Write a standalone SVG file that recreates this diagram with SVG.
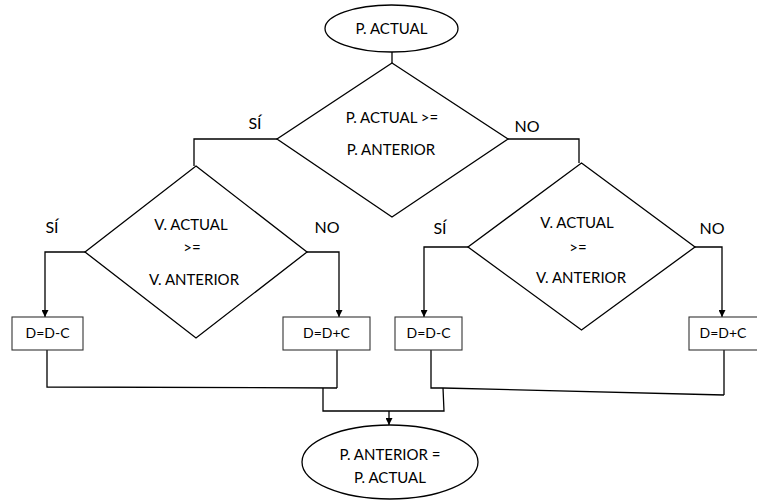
<svg xmlns="http://www.w3.org/2000/svg" width="757" height="501" viewBox="0 0 757 501">
<defs>
<style>
.shape{fill:#fff;stroke:#000;stroke-width:1.3}
.box{fill:#fff;stroke:#333;stroke-width:1.1}
.ln{fill:none;stroke:#000;stroke-width:1.3}
text{font-family:Lato,"Liberation Sans",sans-serif;font-size:15px;fill:#000;text-anchor:middle}
.lbl{font-size:16px}
.bx{font-size:14px}
</style>
<marker id="ah" viewBox="0 0 10 10" refX="10" refY="5" markerWidth="7" markerHeight="7" markerUnits="userSpaceOnUse" orient="auto">
<path d="M0,0 L10,5 L0,10 z" fill="#000"/>
</marker>
</defs>
<rect width="757" height="501" fill="#fff"/>
<g id="connectors">
<line class="ln" x1="392" y1="52" x2="392" y2="63"/>
<polyline class="ln" points="277,139 194,139 194,166"/>
<polyline class="ln" points="508,139 579,139 579,163"/>
<polyline class="ln" points="85,252 45,252 45,317" marker-end="url(#ah)"/>
<polyline class="ln" points="307,252 339,252 339,317" marker-end="url(#ah)"/>
<polyline class="ln" points="468,247 424,247 424,317" marker-end="url(#ah)"/>
<polyline class="ln" points="695,247 722,247 722,317" marker-end="url(#ah)"/>
<polyline class="ln" points="47,350 47,387 337,388"/>
<line class="ln" x1="337" y1="350" x2="337" y2="388"/>
<polyline class="ln" points="431,350 431,388 443,388 724,395"/>
<line class="ln" x1="724" y1="350" x2="724" y2="395"/>
<polyline class="ln" points="323,388 323,411 444,411 443,388"/>
<line class="ln" x1="389" y1="411" x2="389" y2="425" marker-end="url(#ah)"/>
</g>
<g id="start">
<ellipse class="shape" cx="391.5" cy="28.5" rx="66.5" ry="23.5"/>
<text x="391.5" y="34">P. ACTUAL</text>
</g>
<g id="dec-main">
<polygon class="shape" points="392,63 508,139 392,217 277,139"/>
<text x="392" y="123">P. ACTUAL &gt;=</text>
<text x="391" y="155">P. ANTERIOR</text>
</g>
<text class="lbl" x="255" y="129">SÍ</text>
<text class="lbl" x="527" y="132">NO</text>
<g id="dec-left">
<polygon class="shape" points="196,166 307,252 196,338 85,252"/>
<text x="191" y="230">V. ACTUAL</text>
<text x="192" y="253" font-size="12">&gt;=</text>
<text x="194" y="285">V. ANTERIOR</text>
</g>
<text class="lbl" x="52" y="233">SÍ</text>
<text class="lbl" x="327" y="233">NO</text>
<g id="dec-right">
<polygon class="shape" points="581.5,163 695,247 581.5,330 468,247"/>
<text x="577" y="228">V. ACTUAL</text>
<text x="578" y="253" font-size="12">&gt;=</text>
<text x="581" y="283">V. ANTERIOR</text>
</g>
<text class="lbl" x="440" y="234">SÍ</text>
<text class="lbl" x="712" y="234">NO</text>
<g id="box-ll">
<rect class="box" x="12" y="317" width="71" height="33"/>
<text class="bx" x="47.5" y="338">D=D-C</text>
</g>
<g id="box-lr">
<rect class="box" x="283" y="317" width="87" height="33"/>
<text class="bx" x="326.5" y="338">D=D+C</text>
</g>
<g id="box-rl">
<rect class="box" x="395" y="317" width="67" height="33"/>
<text class="bx" x="428.5" y="338">D=D-C</text>
</g>
<g id="box-rr">
<rect class="box" x="689" y="317" width="75" height="33"/>
<text class="bx" x="723" y="338">D=D+C</text>
</g>
<g id="end">
<ellipse class="shape" cx="390" cy="462" rx="88" ry="37"/>
<text x="390" y="460">P. ANTERIOR =</text>
<text x="390" y="483">P. ACTUAL</text>
</g>
</svg>
